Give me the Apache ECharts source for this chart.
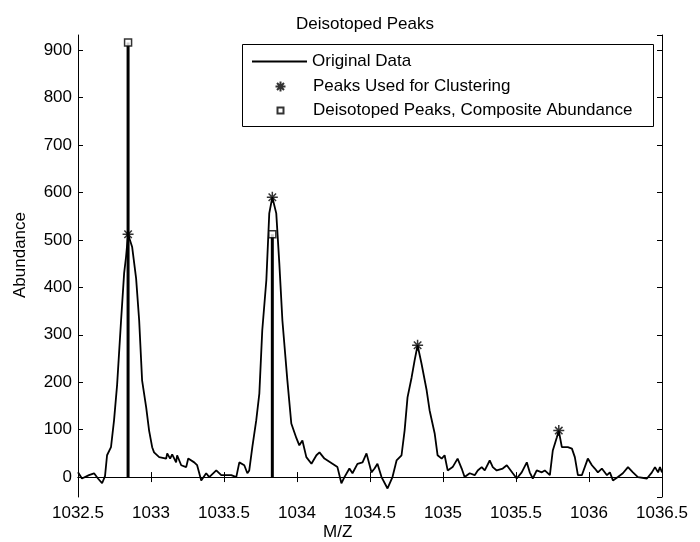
<!DOCTYPE html>
<html>
<head>
<meta charset="utf-8">
<script src="https://cdn.jsdelivr.net/npm/echarts@6/dist/echarts.min.js"></script>
<style>
  html, body { margin: 0; padding: 0; background: #fff; }
  #chart { width: 700px; height: 542px; }
</style>
</head>
<body>
<div id="chart"></div>
<script>
// Spectrum values
var mz = [
  1032.500, 1032.527, 1032.575, 1032.610, 1032.637, 1032.665, 1032.685, 1032.699, 1032.726, 1032.747,
  1032.768, 1032.795, 1032.816, 1032.829, 1032.843, 1032.871, 1032.898, 1032.919, 1032.939, 1032.967,
  1032.987, 1033.008, 1033.021, 1033.056, 1033.104, 1033.111, 1033.131, 1033.145, 1033.172, 1033.179,
  1033.207, 1033.241, 1033.255, 1033.296, 1033.316, 1033.344, 1033.378, 1033.399, 1033.447, 1033.481,
  1033.550, 1033.584, 1033.605, 1033.639, 1033.660, 1033.673, 1033.694, 1033.721, 1033.742, 1033.762,
  1033.790, 1033.810, 1033.831, 1033.858, 1033.879, 1033.900, 1033.934, 1033.961, 1033.996, 1034.016,
  1034.037, 1034.064, 1034.099, 1034.133, 1034.154, 1034.188, 1034.243, 1034.277, 1034.304, 1034.325,
  1034.359, 1034.380, 1034.414, 1034.449, 1034.476, 1034.510, 1034.531, 1034.551, 1034.579, 1034.620,
  1034.654, 1034.682, 1034.716, 1034.737, 1034.757, 1034.785, 1034.805, 1034.826, 1034.853, 1034.888,
  1034.908, 1034.943, 1034.963, 1034.991, 1035.011, 1035.032, 1035.066, 1035.100, 1035.128, 1035.148,
  1035.183, 1035.217, 1035.238, 1035.265, 1035.286, 1035.320, 1035.341, 1035.368, 1035.409, 1035.437,
  1035.478, 1035.505, 1035.539, 1035.574, 1035.594, 1035.615, 1035.642, 1035.677, 1035.697, 1035.732,
  1035.752, 1035.780, 1035.793, 1035.814, 1035.855, 1035.883, 1035.903, 1035.924, 1035.951, 1035.992,
  1036.020, 1036.040, 1036.061, 1036.088, 1036.123, 1036.143, 1036.164, 1036.198, 1036.232, 1036.267,
  1036.301, 1036.335, 1036.397, 1036.431, 1036.452, 1036.473, 1036.486, 1036.500
];
var abundance = [
  10, -3, 4, 8, -3, -13, 2, 46, 63, 120,
  195, 330, 430, 464, 512, 485, 419, 330, 204, 147,
  98, 63, 52, 42, 39, 50, 39, 48, 31, 46,
  25, 21, 39, 31, 25, -7, 8, 0, 14, 4,
  4, 0, 31, 25, 8, 14, 63, 120, 176, 309,
  415, 556, 590, 556, 450, 330, 204, 113, 82, 67,
  77, 42, 28, 46, 52, 39, 28, 21, -13, 0,
  18, 8, 28, 31, 50, 10, 18, 28, 0, -24,
  0, 35, 46, 98, 168, 210, 245, 278, 239, 183,
  141, 92, 46, 39, 46, 14, 21, 39, 18, 0,
  8, 4, 14, 21, 14, 35, 21, 14, 18, 25,
  8, -3, 10, 31, 10, -3, 14, 10, 14, 4,
  56, 84, 98, 63, 63, 60, 42, 4, 4, 39,
  25, 18, 10, 18, 4, 10, -7, 0, 8, 21,
  10, 0, -3, 10, 21, 10, 21, 10
];

// Peaks used for clustering (asterisks)
var peakMz = [1032.843, 1033.831, 1034.826, 1035.793];
var peakAbundance = [512, 590, 278, 98];

// Deisotoped peaks (stems with squares)
var deisoMz = [1032.843, 1033.831];
var deisoAbundance = [916, 512];

var xMin = 1032.5, xMax = 1036.5, xStep = 0.5;
var yMin = -42, yMax = 932, yStep = 100;

var FONT = "'Liberation Sans', Arial, sans-serif";

function pairs(xs, ys) {
  var out = [];
  for (var i = 0; i < xs.length; i++) out.push([xs[i], ys[i]]);
  return out;
}
function fmt(v) { return String(Math.round(v * 10) / 10); }

// legend icons: the leading "M0,0M55,10" keeps every icon box 55x10 so nothing gets stretched
var ICON_LINE = 'path://M0,0M55,10M0,4.1H55V5.9H0Z';
var ICON_STAR = 'path://M0,0M55,10M27.5,0V10M22.5,5H32.5M24,1.5L31,8.5M31,1.5L24,8.5';
var ICON_SQUARE = 'path://M0,0M55,10M24.5,2H30.5V8H24.5Z';

var chart = echarts.init(document.getElementById('chart'));

var tickStyle = { show: true, inside: true, length: 5, lineStyle: { color: '#000', width: 1 } };
var lineStyle = { show: true, lineStyle: { color: '#000', width: 1 } };
var legendText = { fontFamily: FONT, fontSize: 17, color: '#000' };

var option = {
  animation: false,
  backgroundColor: '#fff',
  textStyle: { fontFamily: FONT },
  title: {
    text: 'Deisotoped Peaks',
    left: 291, top: 11,
    textStyle: { fontFamily: FONT, fontSize: 17, fontWeight: 'normal', color: '#000' }
  },
  grid: { left: 78, right: 38, top: 35, bottom: 45 },
  legend: [
    {
      data: [{ name: 'Original Data', icon: ICON_LINE }],
      left: 252, top: 53, padding: 0, z: 10, selectedMode: false,
      itemWidth: 55, itemHeight: 10, textStyle: legendText
    },
    {
      data: [{ name: 'Peaks Used for Clustering', icon: ICON_STAR }],
      left: 252, top: 78, padding: 0, z: 10, selectedMode: false,
      itemWidth: 55, itemHeight: 10, textStyle: legendText
    },
    {
      data: [{ name: 'Deisotoped Peaks, Composite Abundance', icon: ICON_SQUARE }],
      left: 252, top: 102, padding: 0, z: 10, selectedMode: false,
      itemWidth: 55, itemHeight: 10, textStyle: legendText
    }
  ],
  graphic: [
    {
      type: 'rect', left: 242, top: 44, z: 5,
      shape: { width: 411, height: 82 },
      style: { fill: '#fff', stroke: '#000', lineWidth: 1 }
    },
    {
      type: 'text', left: 323, top: 524,
      style: { text: 'M/Z', font: '17px ' + FONT, fill: '#000' }
    },
    {
      type: 'text', x: 20, y: 255, rotation: Math.PI / 2,
      style: { text: 'Abundance', font: '17px ' + FONT, fill: '#000', align: 'center', verticalAlign: 'middle' }
    }
  ],
  xAxis: [
    {
      type: 'value', position: 'bottom', min: xMin, max: xMax, interval: xStep,
      axisLine: lineStyle, axisTick: tickStyle, splitLine: { show: false },
      axisLabel: { margin: 8, fontSize: 17, color: '#000', fontFamily: FONT, formatter: fmt }
    },
    {
      type: 'value', position: 'top', min: xMin, max: xMax, interval: xStep,
      axisLine: lineStyle, axisTick: tickStyle, splitLine: { show: false },
      axisLabel: { show: false }
    }
  ],
  yAxis: [
    {
      type: 'value', position: 'left', min: yMin, max: yMax,
      minInterval: yStep, maxInterval: yStep, splitNumber: 10,
      axisLine: lineStyle, axisTick: tickStyle, splitLine: { show: false },
      axisLabel: {
        margin: 6, fontSize: 17, color: '#000', fontFamily: FONT, formatter: fmt,
        showMinLabel: false, showMaxLabel: false
      }
    },
    {
      type: 'value', position: 'right', min: yMin, max: yMax,
      minInterval: yStep, maxInterval: yStep, splitNumber: 10,
      axisLine: lineStyle, axisTick: tickStyle, splitLine: { show: false },
      axisLabel: { show: false }
    }
  ],
  series: [
    {
      name: 'Original Data', type: 'line',
      xAxisIndex: 0, yAxisIndex: 0,
      data: pairs(mz, abundance),
      symbol: 'none', showSymbol: false,
      lineStyle: { color: '#000', width: 1.8 },
      itemStyle: { color: '#000' },
      z: 2
    },
    {
      name: 'stems', type: 'bar',
      xAxisIndex: 0, yAxisIndex: 0,
      data: pairs(deisoMz, deisoAbundance),
      barWidth: 3,
      itemStyle: { color: '#000' },
      z: 3
    },
    {
      name: 'Peaks Used for Clustering', type: 'scatter',
      xAxisIndex: 0, yAxisIndex: 0,
      data: pairs(peakMz, peakAbundance),
      symbol: 'path://M5,0L5,10M0,5L10,5M1.6,1.6L8.4,8.4M8.4,1.6L1.6,8.4',
      symbolSize: 11,
      itemStyle: { color: 'rgba(0,0,0,0)', borderColor: '#000', borderWidth: 1.5 },
      z: 4
    },
    {
      name: 'Deisotoped Peaks, Composite Abundance', type: 'scatter',
      xAxisIndex: 0, yAxisIndex: 0,
      data: pairs(deisoMz, deisoAbundance),
      symbol: 'rect', symbolSize: 7,
      itemStyle: { color: '#fff', borderColor: '#000', borderWidth: 1.5 },
      z: 5
    }
  ]
};

chart.setOption(option);
</script>
</body>
</html>
